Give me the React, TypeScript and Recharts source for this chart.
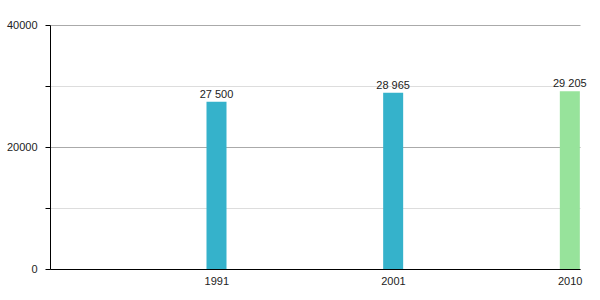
import React from "react";
import { BarChart, Bar, XAxis, YAxis, Cell, LabelList, CartesianGrid } from "recharts";

const years = ["1991", "2001", "2010"];
const population = [27500, 28965, 29205];
const barColors = ["#35b2cb", "#35b2cb", "#97e39b"];
const yTicks = [0, 10000, 20000, 30000, 40000];
const labelledTicks = [0, 20000, 40000];

const data = years.map((year, i) => ({ year, value: population[i] }));

const font = "'Liberation Sans', Arial, Helvetica, sans-serif";
const axisText = { fontSize: 11, fill: "#222", fontFamily: font };

const fmt = (v: number) => String(v).replace(/\B(?=(\d{3})+(?!\d))/g, " ");

const ValueLabel = (props: any) => {
  const { x, y, width, value } = props;
  return (
    <text
      x={Number(x) + Number(width) / 2}
      y={Number(y) - 4}
      textAnchor="middle"
      fontSize={11}
      fill="#222"
      fontFamily={font}
    >
      {fmt(value)}
    </text>
  );
};

// major lines (labelled ticks) darker, minor ones lighter
const GridLine = (props: any) => {
  const { x1, y1, x2, y2, index } = props;
  const major = labelledTicks.includes(yTicks[index]);
  return (
    <line
      x1={x1}
      y1={y1}
      x2={x2}
      y2={y2}
      stroke={major ? "#aaaaaa" : "#dddddd"}
      strokeWidth={1}
    />
  );
};

export default function App() {
  return (
    <div style={{ position: "absolute", left: 0, top: 0, background: "#fff" }}>
      <BarChart
        width={600}
        height={300}
        data={data}
        margin={{ top: 25.5, right: 19.5, bottom: 0.5, left: 0.5 }}
      >
        <CartesianGrid vertical={false} horizontal={GridLine} />
        <XAxis
          dataKey="year"
          height={30}
          padding={{ left: 78, right: -78 }}
          tickLine={false}
          axisLine={{ stroke: "#000" }}
          tick={axisText}
          tickMargin={2}
          interval={0}
        />
        <YAxis
          width={50}
          domain={[0, 40000]}
          ticks={yTicks}
          interval={0}
          tickSize={5}
          tickMargin={8}
          axisLine={{ stroke: "#000" }}
          tickLine={{ stroke: "#000" }}
          tick={axisText}
          tickFormatter={(v: number) => (labelledTicks.includes(v) ? String(v) : "")}
        />
        <Bar dataKey="value" barSize={20} isAnimationActive={false}>
          {data.map((d, i) => (
            <Cell key={d.year} fill={barColors[i]} />
          ))}
          <LabelList dataKey="value" content={ValueLabel} />
        </Bar>
      </BarChart>
    </div>
  );
}
